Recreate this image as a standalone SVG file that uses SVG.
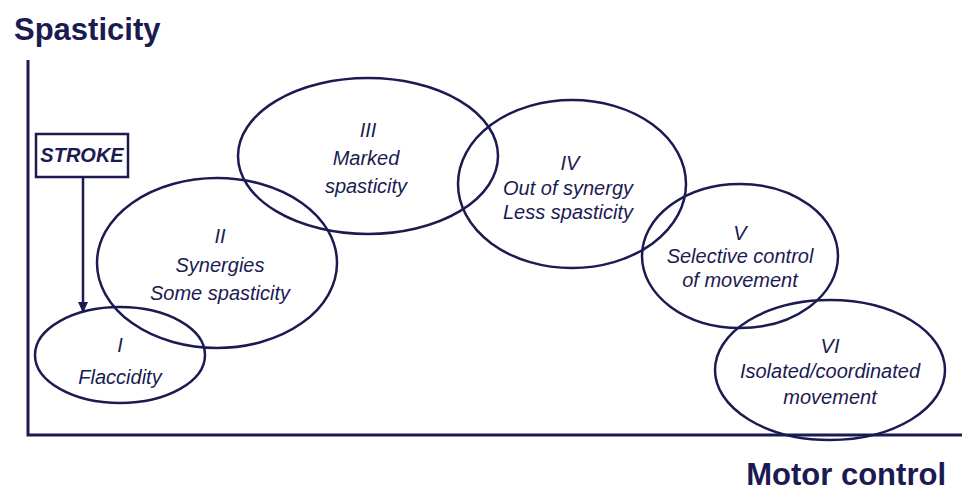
<svg xmlns="http://www.w3.org/2000/svg" width="970" height="504" viewBox="0 0 970 504">
<style>
.e{fill:none;stroke:#1b1b52;stroke-width:2.5}
.t{font-family:"Liberation Sans",Arial,sans-serif;font-style:italic;font-size:20px;fill:#1b1b52;text-anchor:middle}
.h{font-family:"Liberation Sans",Arial,sans-serif;font-weight:bold;font-size:31px;fill:#1b1b52}
</style>
<defs><marker id="a" markerWidth="10" markerHeight="10" refX="5" refY="9" orient="auto" markerUnits="userSpaceOnUse"><path d="M0,0 L10,0 L5,10 Z" fill="#1b1b52" transform="rotate(-90 5 5)"/></marker>
<marker id="ar" markerWidth="12" markerHeight="12" refX="10" refY="6" orient="auto" markerUnits="userSpaceOnUse"><path d="M0,1 L11,6 L0,11 Z" fill="#1b1b52"/></marker></defs>
<rect width="970" height="504" fill="#fff"/>
<g id="axes" stroke="#1b1b52" stroke-width="3" fill="none"><path d="M28,60 V435 H962"/></g>
<text class="h" x="14" y="40">Spasticity</text>
<text class="h" x="946" y="485" text-anchor="end">Motor control</text>
<g id="stroke"><rect x="36" y="134" width="92" height="43" fill="#fff" stroke="#1b1b52" stroke-width="2.5"/><text class="t" x="82" y="162" font-weight="bold">STROKE</text></g>
<g id="connectors"><line x1="83" y1="177" x2="83" y2="312" stroke="#1b1b52" stroke-width="2.5" marker-end="url(#ar)"/></g>
<g id="n1"><ellipse class="e" cx="120" cy="355" rx="85" ry="48"/><text class="t" x="120" y="352">I</text><text class="t" x="120" y="384">Flaccidity</text></g>
<g id="n2"><ellipse class="e" cx="217" cy="263" rx="120" ry="85"/><text class="t" x="220" y="243">II</text><text class="t" x="220" y="272">Synergies</text><text class="t" x="220" y="300">Some spasticity</text></g>
<g id="n3"><ellipse class="e" cx="368" cy="156" rx="130" ry="78"/><text class="t" x="368" y="137">III</text><text class="t" x="366" y="165">Marked</text><text class="t" x="366" y="193">spasticity</text></g>
<g id="n4"><ellipse class="e" cx="572" cy="184" rx="114" ry="84"/><text class="t" x="570" y="170">IV</text><text class="t" x="568" y="195">Out of synergy</text><text class="t" x="568" y="219">Less spasticity</text></g>
<g id="n5"><ellipse class="e" cx="740" cy="256" rx="98" ry="72"/><text class="t" x="740" y="240">V</text><text class="t" x="740" y="263">Selective control</text><text class="t" x="740" y="287">of movement</text></g>
<g id="n6"><ellipse class="e" cx="830" cy="370" rx="115" ry="70"/><text class="t" x="830" y="353">VI</text><text class="t" x="830" y="378">Isolated/coordinated</text><text class="t" x="830" y="404">movement</text></g>
</svg>
